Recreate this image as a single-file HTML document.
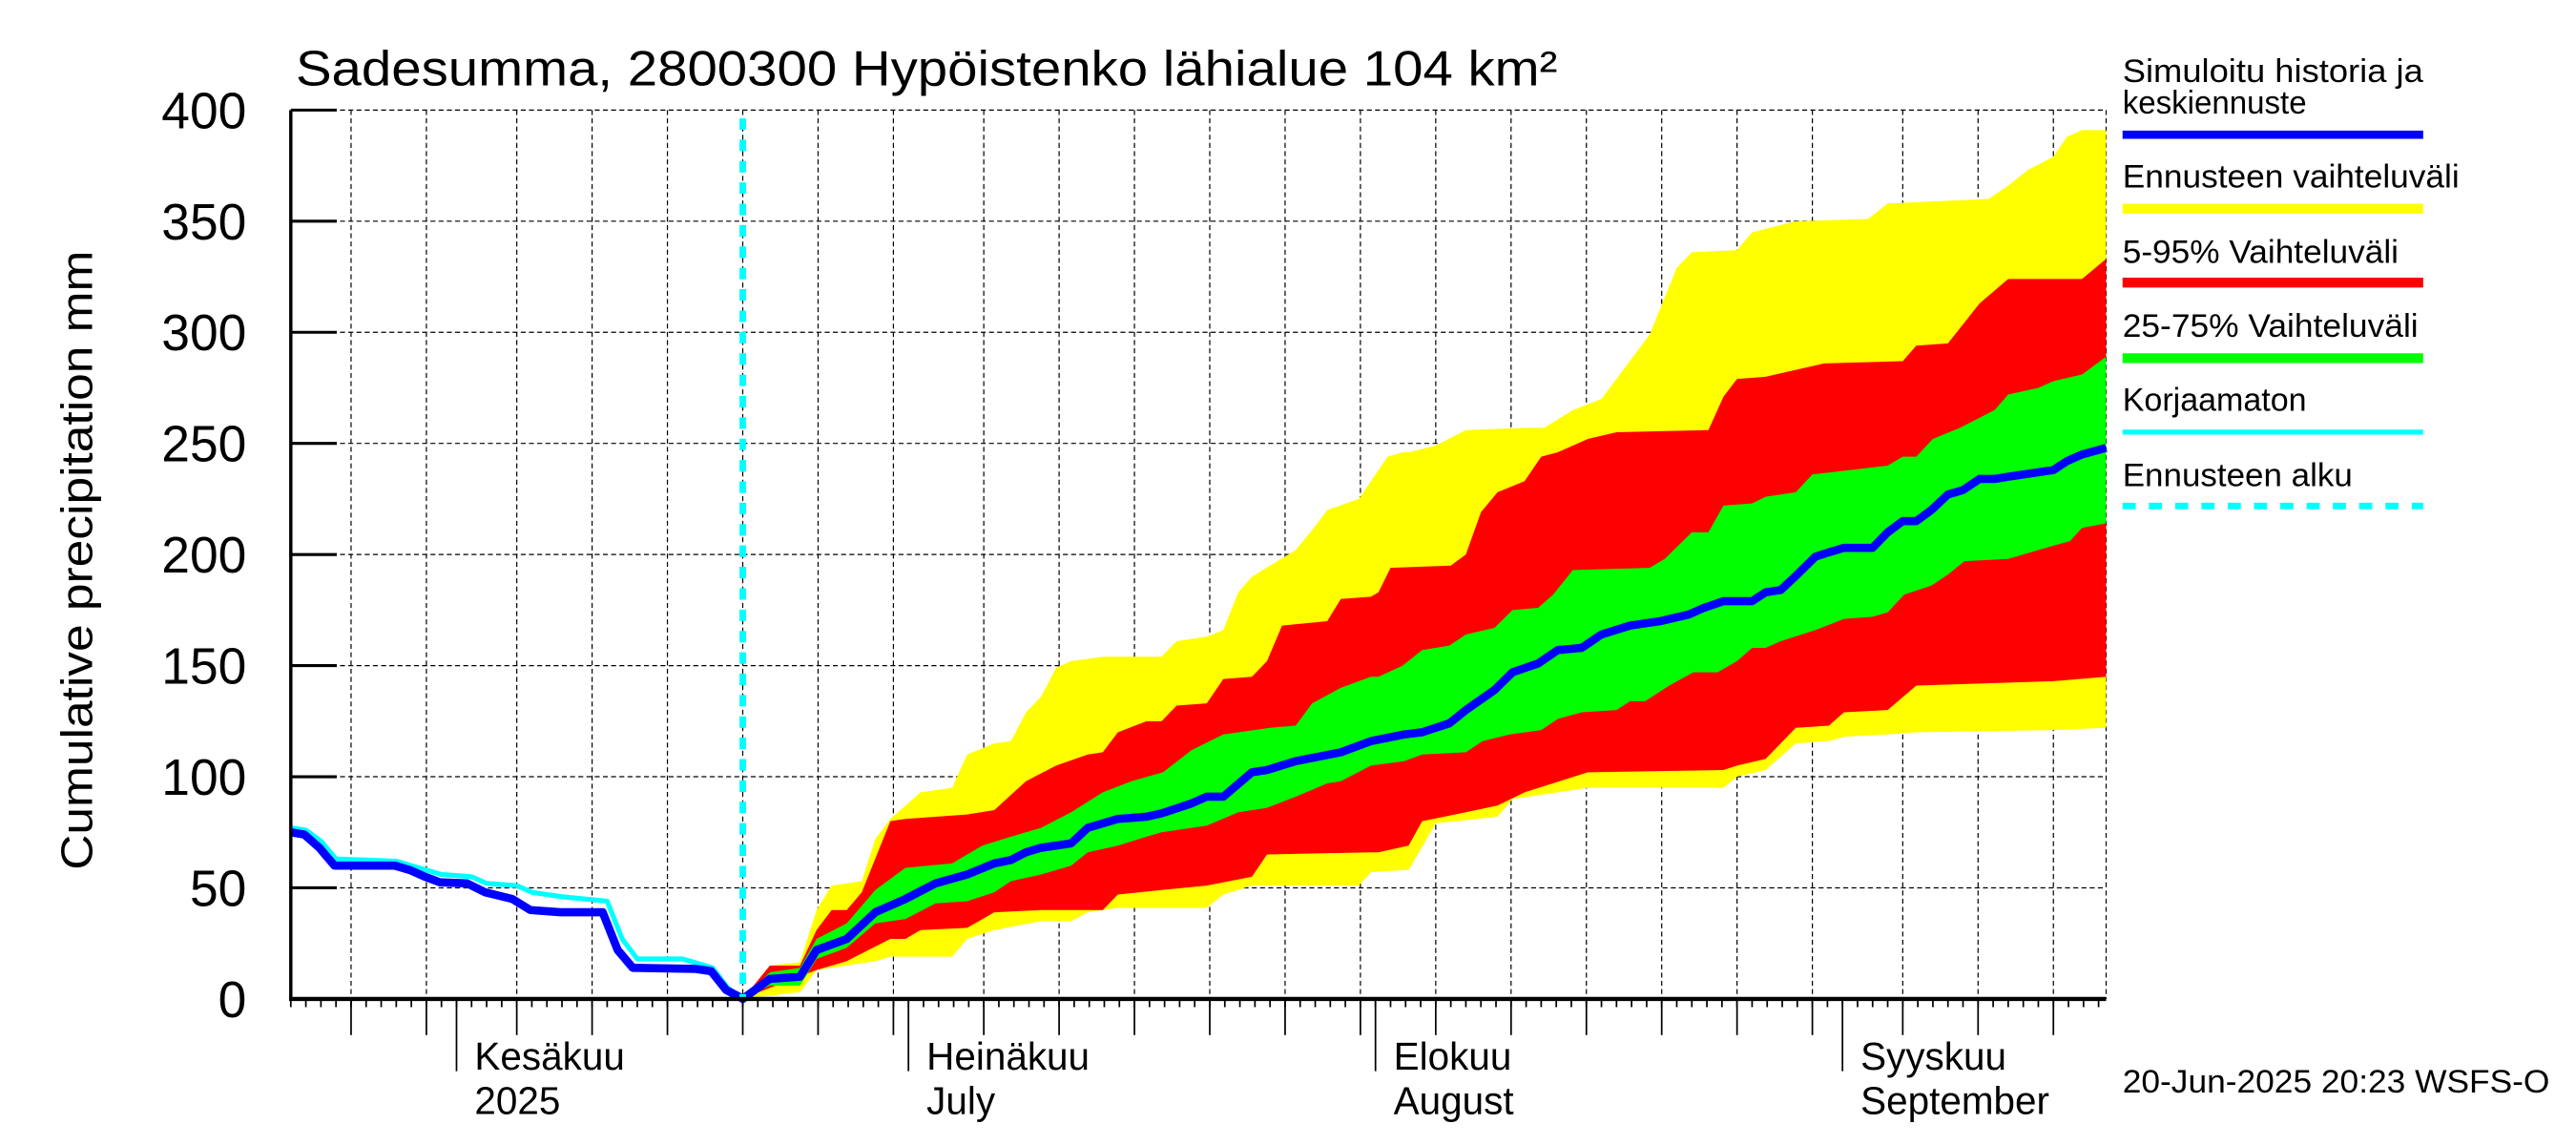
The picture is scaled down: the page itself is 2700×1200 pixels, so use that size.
<!DOCTYPE html>
<html><head><meta charset="utf-8"><style>
html,body{margin:0;padding:0;background:#fff;}
svg{display:block;font-family:"Liberation Sans",sans-serif;}
</style></head><body>
<svg id="chart" width="2700" height="1200" viewBox="0 0 1568 696.9" xmlns="http://www.w3.org/2000/svg">
<rect width="1568" height="696.9" fill="#fff"/>
<g id="grid"></g>
<g id="bands"></g>
<g id="lines"></g>
<g id="axes"></g>
<text x="180" y="52" font-size="30" textLength="768" lengthAdjust="spacingAndGlyphs">Sadesumma, 2800300 Hypöistenko lähialue 104 km²</text>
<text transform="translate(56,341) rotate(-90)" text-anchor="middle" font-size="27" textLength="377" lengthAdjust="spacingAndGlyphs">Cumulative precipitation   mm</text>
<g font-size="20">
<text x="1292" y="50" textLength="183" lengthAdjust="spacingAndGlyphs">Simuloitu historia ja</text>
<text x="1292" y="69" textLength="112" lengthAdjust="spacingAndGlyphs">keskiennuste</text>
<line x1="1292" x2="1475" y1="82" y2="82" stroke="#0000ff" stroke-width="5"/>
<text x="1292" y="114" textLength="205" lengthAdjust="spacingAndGlyphs">Ennusteen vaihteluväli</text>
<line x1="1292" x2="1475" y1="127" y2="127" stroke="#ffff00" stroke-width="6"/>
<text x="1292" y="160" textLength="168" lengthAdjust="spacingAndGlyphs">5-95% Vaihteluväli</text>
<line x1="1292" x2="1475" y1="172" y2="172" stroke="#ff0000" stroke-width="6"/>
<text x="1292" y="205" textLength="180" lengthAdjust="spacingAndGlyphs">25-75% Vaihteluväli</text>
<line x1="1292" x2="1475" y1="218" y2="218" stroke="#00ff00" stroke-width="6"/>
<text x="1292" y="250" textLength="112" lengthAdjust="spacingAndGlyphs">Korjaamaton</text>
<line x1="1292" x2="1475" y1="263" y2="263" stroke="#00ffff" stroke-width="3"/>
<text x="1292" y="296" textLength="140" lengthAdjust="spacingAndGlyphs">Ennusteen alku</text>
<line x1="1292" x2="1475" y1="308" y2="308" stroke="#00ffff" stroke-width="4" stroke-dasharray="8,8"/>
</g>
<text x="1292" y="665" font-size="20" textLength="260" lengthAdjust="spacingAndGlyphs">20-Jun-2025 20:23 WSFS-O</text>
</svg>
<script>
// ---- data (day index 0 = 2025-05-21), values in mm ----
const yTicks = [0,50,100,150,200,250,300,350,400];
const monthLabels = ["Kesäkuu","Heinäkuu","Elokuu","Syyskuu"];
const monthLabels2 = ["2025","July","August","September"];
const monthDays = [11,41,72,103];
const gridDays = [4,9,15,20,25,30,35,40,46,51,56,61,66,71,76,81,86,91,96,101,107,112,117];
const forecastStartDay = 30;
const historyDays = [0,0.9,1.9,2.9,6.9,7.9,8.9,9.9,11.7,12.9,14.7,15.9,17.9,20.7,21.7,22.7,26.9,27.9,28.9,29.9,30];
const historyVals = [75,74,68,60,60,58,55,52.5,52,48,45,40,39,39,22,14,13.5,12.5,4,0.5,0];
const uncorrDays = [0,1,2,3,7,8,9,10,12,13,15,16,18,21,22,23,26,27,28,29,30];
const uncorrVals = [77,76,71,63,62,60,58,56,55,52,51,48,46,44,27,18,18,16,14,5,0];
const medianDays = [30,31.8,33.8,34.9,36.9,38.8,40.8,42.8,44.9,46.7,47.8,48.8,49.8,51.8,52.9,54.9,56.8,57.8,59.8,60.8,61.9,63.8,64.8,66.7,69.7,71.7,73.9,75.1,76.9,78,79.9,81.1,82.8,84.1,85.7,87,88.9,90.9,92.8,93.8,95.1,97,97.9,98.9,100,101.2,102.1,103.1,105,106,107,107.9,108.9,110,111,112.1,113.1,114,117,117.9,118.9,120.5];
const medianVals = [0,9,10,22,27,39,45,52,56,61,62.5,66,68,70,77,81,82,83.5,88,91,91,102,103,107,111,116,119,120,124,130,139,147,151,157,158,164,168,170,173,176,179,179,183,184,191,199,201,203,203,210,215,215,220,227,229,234,234,235,238,242,245,248];
const ylwTopDays = [30,31.8,33.8,34.9,35.9,37.9,38.8,39.8,41.8,43.9,44.9,46.7,47.8,48.8,49.8,50.8,51.8,53.9,57.8,58.8,60.8,61.9,62.9,63.8,66.7,67.8,68.8,70.9,72.8,73.8,74.2,76,78,81.9,83.2,85.1,87,90.2,92,93,96,97,99.9,104.7,106,112.7,114,115.3,117,117.9,118.9,120.5];
const ylwTopVals = [0,15,16.5,40,51,53,72,81,93,95,110,115,116,129,136,149,152,154,154,161,163,166,183,190,202,211,220,225,244,246,246,249,256,257,257,265,270,299,329,336,337,345,350,351,358,360,366,373,379,388,391,391];
const redTopDays = [30,31.8,33.8,34.9,35.9,36.9,37.9,39.8,40.8,44.9,46.7,48.8,50.8,52.9,53.9,54.9,56.8,57.8,58.8,60.8,61.9,63.8,64.8,65.8,68.8,69.7,71.7,72.2,73,77,78,79,80.1,81.9,83,84.1,86.1,88,94.1,95.1,96,97.9,99.2,101.8,107,107.9,110,112.1,114,118.9,120.5];
const redTopVals = [0,15,15,31,40,40,48,80,81,83,85,98,105,110,111,120,125,125,132,133,144,145,152,168,170,180,181,183,194,195,200,219,228,233,244,246,252,255,256,271,279,280,282,286,287,294,295,313,324,324,333];
const grnTopDays = [30,31.8,33.8,34.9,36.9,38.8,40.8,43.9,45.9,47.8,49.8,51.8,53.9,55.8,57.9,59.8,61.9,65,66.7,67.8,69.7,71.7,72.2,73.8,75.1,76.9,78,79.9,81.1,82.8,83.8,85.1,90.2,91.2,93,94.1,95.1,97,97.9,99.9,101,106,107,107.9,109,110.8,113.1,114,116,117,118.9,120.5];
const grnTopVals = [0,12,14,27,34,49,59,61,69,73,77,84,93,98,102,112,119,122,123,133,140,145,145,150,157,159,164,167,175,176,182,193,194,198,210,210,222,223,226,228,236,240,244,244,252,257,265,272,275,278,281,289];
const grnBotDays = [30,31.8,33.8,34.9,36.9,38.8,40.8,42.8,44.9,46.7,47.8,49.8,51.8,52.9,54.9,56.8,57.8,59.8,60.8,62.9,64.8,66.7,68.8,69.7,71.7,73.9,75.1,78,79.1,80.9,83,84.1,85.7,88,88.9,89.9,91.5,93.1,94.7,96,97,97.9,98.9,101.2,103.1,105,106,107.1,108.9,110,111.1,114,116,117,118.1,118.9,120.5];
const grnBotVals = [0,6,6,18,23,34,36,43,44,48,53,56,60,66,69,73,75,77,78,84,86,91,97,98,105,107,110,111,116,119,121,126,129,130,134,134,141,147,147,152,158,158,161,166,171,172,174,182,186,191,197,198,202,204,206,212,214];
const redBotDays = [30,31.8,34.9,36.9,39.8,40.8,41.8,44.9,46.7,49.8,53.9,54.9,57.8,60.8,63.8,64.8,71.7,72.2,74.2,75.1,78,80.1,81.9,86.1,95.1,96,97.9,99.9,102.1,103.1,106,107.9,117,120.5];
const redBotVals = [0,5,13,17,27,27,31,32,39,40,40,47,49,51,55,65,66,66,69,80,84,87,93,102,103,105,108,122,123,129,130,141,143,145];
const ylwBotDays = [30,33.8,34.9,38.8,39.8,43.9,44.9,46.7,49.8,51.8,52.9,54.9,60.8,61.9,63.8,70.9,71.7,73.9,74.2,76,80.1,81.1,86.1,95.1,96,97.9,99.9,102.1,103.1,106,107.9,117,120.5];
const ylwBotVals = [0,3,13,17,19,19,27,31,35,35,39,41,41,47,51,51,57,58,58,79,82,90,95,95,100,103,115,116,118,119,120,121,122];

// ---- axis functions ----
const X0=177, X1=1282, DAY_END=120.5, Y0=608, Y1=67, VMAX=400;
function xs(d){return X0 + d*(X1-X0)/DAY_END;}
function ys(v){return Y0 - v*(Y0-Y1)/VMAX;}
const NS="http://www.w3.org/2000/svg";
function mk(tag, parent, attrs){const e=document.createElementNS(NS,tag);for(const k in attrs)e.setAttribute(k,attrs[k]);parent.appendChild(e);return e;}

const grid=document.getElementById('grid'), bands=document.getElementById('bands'), lines=document.getElementById('lines'), axes=document.getElementById('axes');

yTicks.forEach(v=>{
  const g=mk('line',grid,{x1:X0,x2:X1,y1:ys(v),y2:ys(v),stroke:'#000','stroke-width':0.7,'stroke-dasharray':'3,2'});
  
  
  const t=mk('line',axes,{x1:X0,x2:X0+28,y1:ys(v),y2:ys(v),stroke:'#000','stroke-width':1.8});
  
  
  const l=mk('text',axes,{x:150,y:ys(v)+11,'text-anchor':'end','font-size':31});
  l.textContent=v;
  
  
});
gridDays.forEach(d=>{
  const g=mk('line',grid,{x1:xs(d),x2:xs(d),y1:Y1,y2:Y0,stroke:'#000','stroke-width':0.7,'stroke-dasharray':'3,2'});
  
  
  const t=mk('line',axes,{x1:xs(d),x2:xs(d),y1:Y0,y2:Y0+22,stroke:'#000','stroke-width':1});
  
  
});
mk('line',grid,{x1:X1,x2:X1,y1:Y1,y2:Y0,stroke:'#000','stroke-width':0.7,'stroke-dasharray':'3,2'});
for(let d=0; d<=120; d++){
  const t=mk('line',axes,{x1:xs(d),x2:xs(d),y1:Y0,y2:Y0+5,stroke:'#000','stroke-width':1});
  
  
}
monthDays.forEach((d,i)=>{
  const t=mk('line',axes,{x1:xs(d),x2:xs(d),y1:Y0,y2:Y0+44,stroke:'#000','stroke-width':1});
  
  
  const a=mk('text',axes,{x:xs(d)+11,y:651,'font-size':23.5});
  a.textContent=monthLabels[i];
  
  
  const b=mk('text',axes,{x:xs(d)+11,y:678,'font-size':23.5});
  b.textContent=monthLabels2[i];
  
  
});
mk('line',axes,{x1:X0,x2:X0,y1:Y1,y2:Y0+1,stroke:'#000','stroke-width':2});
mk('line',axes,{x1:X0-1,x2:X1,y1:Y0,y2:Y0,stroke:'#000','stroke-width':2.5});

function band(topD,topV,botD,botV,color,name){
  let p=[];
  topD.forEach((d,i)=>p.push(xs(d).toFixed(2)+','+ys(topV[i]).toFixed(2)));
  for(let i=botD.length-1;i>=0;i--) p.push(xs(botD[i]).toFixed(2)+','+ys(botV[i]).toFixed(2));
  const e=mk('polygon',bands,{points:p.join(' '),fill:color});
  
  
}
band(ylwTopDays,ylwTopVals,ylwBotDays,ylwBotVals,'#ffff00','band-full-range');
band(redTopDays,redTopVals,redBotDays,redBotVals,'#ff0000','band-5-95');
band(grnTopDays,grnTopVals,grnBotDays,grnBotVals,'#00ff00','band-25-75');

function line(ds,vs,color,w,name){
  const pts=ds.map((d,i)=>xs(d).toFixed(2)+','+ys(vs[i]).toFixed(2)).join(' ');
  const e=mk('polyline',lines,{points:pts,fill:'none',stroke:color,'stroke-width':w,'stroke-linejoin':'round'});
  
  
}
line(uncorrDays,uncorrVals,'#00ffff',3,'uncorrected-line');
line(historyDays.concat(medianDays.slice(1)),historyVals.concat(medianVals.slice(1)),'#0000ff',5,'simulated-median-line');
const fs=mk('line',lines,{x1:xs(forecastStartDay),x2:xs(forecastStartDay),y1:72,y2:Y0,stroke:'#00ffff','stroke-width':4,'stroke-dasharray':'7,6'});


</script>
</body></html>
